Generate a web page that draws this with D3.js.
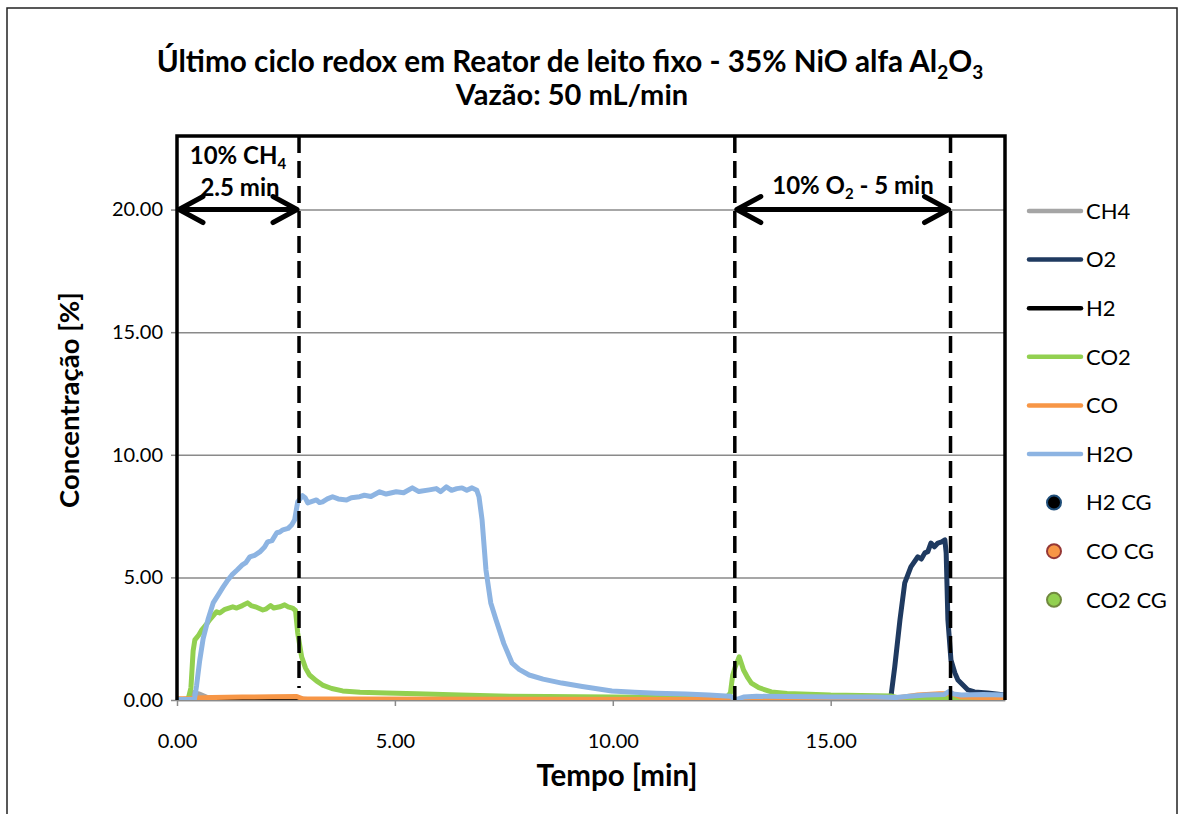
<!DOCTYPE html>
<html>
<head>
<meta charset="utf-8">
<script src="https://d3js.org/d3.v7.min.js"></script>
<style>
  body { margin: 0; background: #fff; }
  svg { font-family: Lato, "Open Sans", sans-serif; }
</style>
</head>
<body>
<svg width="1179" height="814"></svg>
<script>
// data: [time (min), concentration (%)]
const ch4 = [[0,0],[0.3,0.05],[0.38,0.3],[0.5,0.25],[0.7,0.1],[1.0,0.05],[2.8,0.05],[3.0,0.02],[19,0.02]]
const o2 = [[0,0],[16.3,0],[16.38,0.1],[16.47,1.35],[16.59,3.27],[16.7,4.78],[16.77,5.1],[16.84,5.43],[17.0,5.84],[17.08,5.75],
  [17.16,6.0],[17.23,6.05],[17.3,6.4],[17.38,6.25],[17.46,6.4],[17.55,6.45],[17.62,6.53],[17.65,6.0],[17.69,3.27],[17.76,1.63],
  [17.85,1.1],[17.92,0.82],[18.15,0.41],[18.3,0.33],[18.6,0.29],[19,0.2]]
const h2 = [[0,0],[0.5,0.02],[2.7,0.02],[2.8,0],[19,0]]
const co2 = [[0,0],[0.25,0],[0.32,0.5],[0.37,2.0],[0.41,2.45],[0.5,2.65],[0.57,2.86],[0.66,3.05],[0.75,3.27],[0.91,3.6],
  [0.98,3.55],[1.1,3.7],[1.28,3.8],[1.37,3.75],[1.5,3.85],[1.62,3.96],[1.7,3.85],[1.8,3.8],[1.97,3.67],[2.05,3.72],
  [2.15,3.85],[2.22,3.75],[2.36,3.8],[2.47,3.88],[2.55,3.8],[2.65,3.75],[2.72,3.65],[2.77,2.73],[2.86,1.76],[2.95,1.3],
  [3.04,1.02],[3.2,0.78],[3.34,0.61],[3.55,0.47],[3.8,0.37],[4.2,0.32],[4.8,0.29],[5.5,0.25],[6.5,0.2],[7.39,0.16],
  [8.5,0.14],[10,0.12],[11.5,0.1],[12.6,0.08],[12.7,0.29],[12.75,1.0],[12.81,1.35],[12.9,1.76],[12.95,1.5],[13.0,1.22],
  [13.1,0.9],[13.18,0.69],[13.35,0.5],[13.64,0.33],[14.0,0.27],[15.0,0.2],[16.4,0.16],[16.6,0.06],[17.5,0.05],[17.8,0.08],[19,0.05]]
const co = [[0,0.05],[0.3,0.05],[0.45,0.08],[0.8,0.1],[1.5,0.12],[2.2,0.13],[2.75,0.14],[2.9,0.04],[4,0.04],[8,0.03],
  [12.5,0.02],[12.8,0],[13,0.02],[16,0.03],[16.6,0.1],[17,0.2],[17.5,0.25],[17.8,0.25],[18,0.12],[19,0.08]]
const h2o = [[0,0.02],[0.2,0.02],[0.4,0.03],[0.45,0.6],[0.52,1.6],[0.6,2.5],[0.71,3.27],[0.83,3.96],[0.95,4.3],[1.06,4.61],
  [1.15,4.85],[1.26,5.1],[1.38,5.3],[1.49,5.5],[1.58,5.6],[1.67,5.84],[1.78,5.9],[1.9,6.04],[2.01,6.24],[2.08,6.45],
  [2.18,6.5],[2.29,6.82],[2.36,6.85],[2.43,6.94],[2.55,7.0],[2.63,7.14],[2.7,7.35],[2.77,8.08],[2.88,8.33],[2.94,8.25],
  [3.0,8.04],[3.1,8.1],[3.2,8.16],[3.27,8.05],[3.34,8.08],[3.45,8.2],[3.57,8.29],[3.7,8.2],[3.89,8.16],[4.0,8.25],
  [4.19,8.29],[4.3,8.35],[4.45,8.3],[4.65,8.49],[4.8,8.4],[5.03,8.49],[5.2,8.45],[5.4,8.65],[5.55,8.5],[5.79,8.57],
  [5.95,8.62],[6.05,8.5],[6.18,8.69],[6.3,8.55],[6.42,8.62],[6.54,8.65],[6.65,8.55],[6.77,8.65],[6.88,8.55],[6.93,8.29],
  [7.0,7.35],[7.09,5.3],[7.2,3.96],[7.32,3.27],[7.5,2.3],[7.69,1.5],[7.85,1.25],[8.08,1.02],[8.4,0.85],[8.83,0.69],
  [9.3,0.55],[9.98,0.37],[10.5,0.32],[11.0,0.28],[11.67,0.24],[12.2,0.2],[12.59,0.16],[12.7,0.15],[12.78,0.05],[12.85,0.03],
  [13.0,0.12],[13.3,0.15],[14,0.14],[15,0.12],[16,0.12],[16.5,0.1],[16.8,0.15],[17.2,0.2],[17.6,0.22],[17.72,0.35],
  [17.8,0.25],[18.0,0.2],[18.5,0.22],[19,0.2]]
// GC points: none visible in the plot
const h2CG = []
const coCG = []
const co2CG = []

const xTicks = [0, 5, 10, 15]
const yTicks = [0, 5, 10, 15, 20]
const phaseLines = [2.8, 12.8, 17.75]   // dashed markers (min)

const lineSeries = [
  {name: 'CH4', data: ch4, color: '#A5A5A5'},
  {name: 'O2', data: o2, color: '#1F3A60'},
  {name: 'H2', data: h2, color: '#000000'},
  {name: 'CO2', data: co2, color: '#92D050'},
  {name: 'CO', data: co, color: '#F79646'},
  {name: 'H2O', data: h2o, color: '#8DB4E2'}
]
const pointSeries = [
  {name: 'H2 CG', data: h2CG, fill: '#000000', stroke: '#1F4E79'},
  {name: 'CO CG', data: coCG, fill: '#F79646', stroke: '#953735'},
  {name: 'CO2 CG', data: co2CG, fill: '#92D050', stroke: '#71893F'}
]

const svg = d3.select('svg')

const margin = {top: 136, left: 177}
const width = 828
const height = 564

svg.append('rect')
  .attr('x', 7).attr('y', 8).attr('width', 1170).attr('height', 830)
  .attr('fill', 'none').attr('stroke', '#222').attr('stroke-width', 1.5)

const x = d3.scaleLinear().domain([0, 19]).range([0, width])
const y = d3.scaleLinear().domain([0, 23]).range([height, 0])

const g = svg.append('g').attr('transform', `translate(${margin.left},${margin.top})`)

// gridlines
g.append('g')
  .call(d3.axisLeft(y).tickValues(yTicks).tickSize(-width).tickFormat(''))
  .call(a => a.select('.domain').remove())
  .selectAll('line').attr('stroke', '#8a8a8a').attr('stroke-width', 1.5)

// y axis
const yAxis = g.append('g')
  .call(d3.axisLeft(y).tickValues(yTicks).tickSize(6).tickPadding(8).tickFormat(d3.format('.2f')))
yAxis.select('.domain').remove()
yAxis.selectAll('line').attr('stroke', '#8a8a8a').attr('stroke-width', 1.5)
yAxis.selectAll('text').attr('font-size', 20).attr('fill', '#000').attr('font-family', 'Lato')

// x axis
const xAxis = g.append('g').attr('transform', `translate(0,${height})`)
  .call(d3.axisBottom(x).tickValues(xTicks).tickSize(6).tickSizeOuter(0).tickPadding(28).tickFormat(d3.format('.2f')))
xAxis.select('.domain').attr('stroke', '#8a8a8a').attr('stroke-width', 1.5)
xAxis.selectAll('line').attr('stroke', '#8a8a8a').attr('stroke-width', 1.5)
xAxis.selectAll('text').attr('font-size', 20).attr('fill', '#000').attr('font-family', 'Lato')

// series
g.append('clipPath').attr('id', 'clip')
  .append('rect').attr('width', width).attr('height', height)

const line = d3.line().x(d => x(d[0])).y(d => y(d[1]))

g.append('g').attr('clip-path', 'url(#clip)')
  .selectAll('path').data(lineSeries).join('path')
  .attr('d', d => line(d.data))
  .attr('fill', 'none')
  .attr('stroke', d => d.color)
  .attr('stroke-width', 5)
  .attr('stroke-linejoin', 'round')
  .attr('stroke-linecap', 'round')

pointSeries.forEach(s => {
  g.selectAll(null).data(s.data).join('circle')
    .attr('cx', d => x(d[0])).attr('cy', d => y(d[1])).attr('r', 7)
    .attr('fill', s.fill).attr('stroke', s.stroke).attr('stroke-width', 2)
})

// plot frame (top, left, right)
g.append('path')
  .attr('d', `M0,${height} V0 H${width} V${height}`)
  .attr('fill', 'none').attr('stroke', '#000').attr('stroke-width', 3.5)

// dashed phase markers
g.selectAll('.phase').data(phaseLines).join('line')
  .attr('x1', d => x(d)).attr('x2', d => x(d))
  .attr('y1', 0).attr('y2', (d, i) => i === 0 ? height - 12 : height)
  .attr('stroke', '#000').attr('stroke-width', 3.5)
  .attr('stroke-dasharray', '17,8')

// double arrows at 20 %
const arrows = [[0, phaseLines[0]], [phaseLines[1], phaseLines[2]]]
arrows.forEach(([a, b]) => {
  const x0 = x(a) + 2, x1 = x(b) - 2, yy = y(20)
  g.append('path')
    .attr('d', `M${x0},${yy} H${x1} M${x0 + 24},${yy - 13} L${x0},${yy} L${x0 + 24},${yy + 13} M${x1 - 24},${yy - 13} L${x1},${yy} L${x1 - 24},${yy + 13}`)
    .attr('fill', 'none').attr('stroke', '#000').attr('stroke-width', 5)
    .attr('stroke-linecap', 'round').attr('stroke-linejoin', 'round')
})

// annotations
const ann = svg.append('g').attr('font-weight', 'bold').attr('font-size', 24).attr('fill', '#000')
const t1 = ann.append('text').attr('x', 238).attr('y', 164).attr('text-anchor', 'middle')
t1.append('tspan').text('10% CH')
t1.append('tspan').text('4').attr('font-size', 15).attr('dy', 5)
ann.append('text').attr('x', 240).attr('y', 196).attr('text-anchor', 'middle').text('2.5 min')
const t2 = ann.append('text').attr('x', 853).attr('y', 194).attr('text-anchor', 'middle')
t2.append('tspan').text('10% O')
t2.append('tspan').text('2').attr('font-size', 15).attr('dy', 5)
t2.append('tspan').text(' - 5 min').attr('dy', -5)

// title
const title = svg.append('g').attr('font-weight', 'bold').attr('font-size', 29.7).attr('text-anchor', 'middle')
const tt = title.append('text').attr('x', 570).attr('y', 72)
tt.append('tspan').text('Último ciclo redox em Reator de leito fixo - 35% NiO alfa Al')
tt.append('tspan').text('2').attr('font-size', 19).attr('dy', 7)
tt.append('tspan').text('O').attr('dy', -7)
tt.append('tspan').text('3').attr('font-size', 19).attr('dy', 7)
title.append('text').attr('x', 572).attr('y', 105).attr('font-size', 29).text('Vazão: 50 mL/min')

// axis titles
svg.append('text').attr('x', 617).attr('y', 786).attr('text-anchor', 'middle')
  .attr('font-weight', 'bold').attr('font-size', 29.5).text('Tempo [min]')
svg.append('text').attr('transform', 'translate(79,400) rotate(-90)').attr('text-anchor', 'middle')
  .attr('font-weight', 'bold').attr('font-size', 27.5).text('Concentração [%]')

// legend
const legend = svg.append('g').attr('transform', 'translate(1027,211)')
const rows = lineSeries.map(s => ({...s, type: 'line'})).concat(pointSeries.map(s => ({...s, type: 'point'})))
const item = legend.selectAll('g').data(rows).join('g')
  .attr('transform', (d, i) => `translate(0,${i * 48.6})`)
item.filter(d => d.type === 'line').append('line')
  .attr('x1', 2).attr('x2', 54).attr('stroke', d => d.color).attr('stroke-width', 4.5).attr('stroke-linecap', 'round')
item.filter(d => d.type === 'point').append('circle')
  .attr('cx', 27).attr('r', 7).attr('fill', d => d.fill).attr('stroke', d => d.stroke).attr('stroke-width', 2)
item.append('text').attr('x', 59).attr('dy', '0.35em')
  .attr('font-size', 22).text(d => d.name)
</script>
</body>
</html>
